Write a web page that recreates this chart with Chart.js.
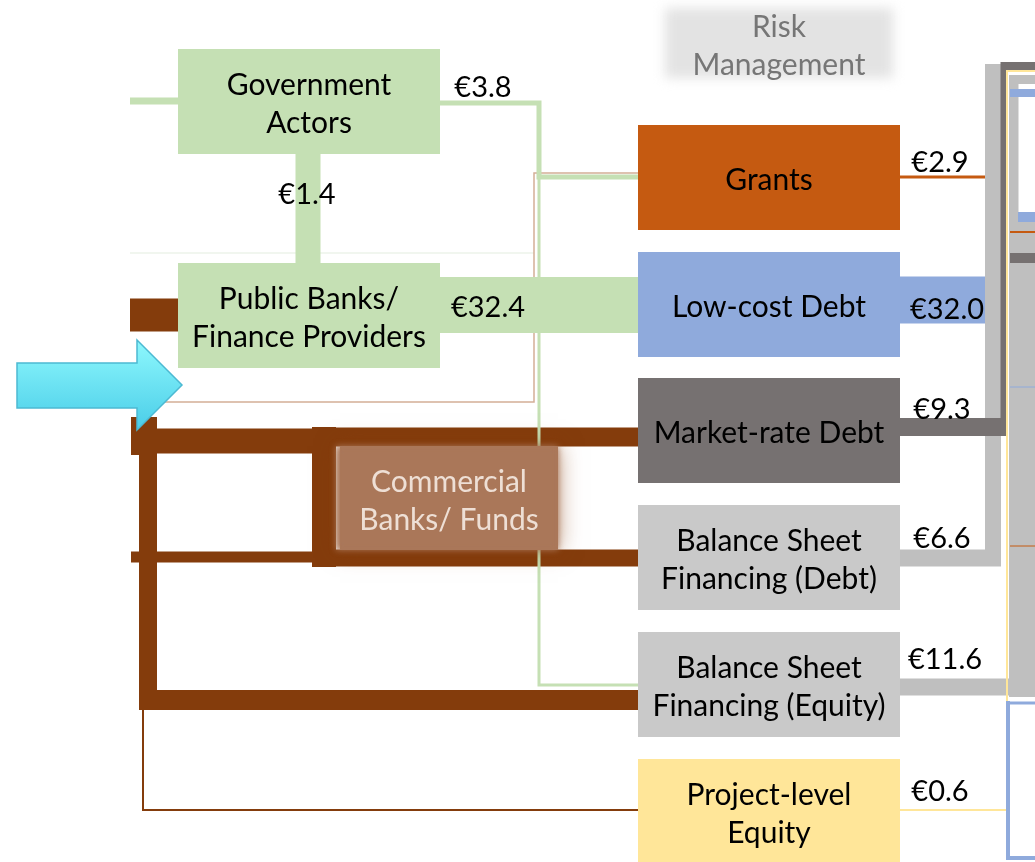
<!DOCTYPE html>
<html>
<head>
<meta charset="utf-8">
<script src="https://cdn.jsdelivr.net/npm/chart.js@4"></script>
<style>
 html, body { margin: 0; padding: 0; background: #fff; }
</style>
</head>
<body>
<canvas id="flowChart" width="1035" height="862"></canvas>
<script>
// データ (EUR, billions)
const nodeNames = ["Government\nActors", "Public Banks/\nFinance Providers", "Commercial\nBanks/ Funds", "Risk\nManagement"];
const instrumentNames = ["Grants", "Low-cost Debt", "Market-rate Debt", "Balance Sheet\nFinancing (Debt)", "Balance Sheet\nFinancing (Equity)", "Project-level\nEquity"];
const sourceFlowValues = [3.8, 1.4, 32.4];                 // Gov -> instruments, Gov -> Public banks, Public banks -> Low-cost debt
const instrumentFlowValues = [2.9, 32.0, 9.3, 6.6, 11.6, 0.6]; // out of each instrument

// 色
const GREEN = "#c5e0b4", BROWN = "#843c0c", TAN = "#d4ae97", ORANGE = "#c55a11",
      BLUE = "#8faadc", DARK = "#767171", GREY = "#bfbfbf", LIGHT = "#c9c9c9", YELLOW = "#ffe699";

// レイアウト (axis units = pixels of the original)
const nodeBoxes = [
 { rect: [178, 49, 440, 154], fill: GREEN, text: "#000" },
 { rect: [178, 263, 440, 368], fill: GREEN, text: "#000" },
 { rect: [340, 446, 558, 550], fill: "#aa7759", text: "#eedfd5", glow: true },
 { rect: [665, 8, 893, 78], fill: "#e3e3e3", text: "#767676", blur: true }
];
const instrumentBoxes = [
 { rect: [638, 125, 900, 230], fill: ORANGE },
 { rect: [638, 252, 900, 357], fill: BLUE },
 { rect: [638, 378, 900, 483], fill: DARK },
 { rect: [638, 505, 900, 610], fill: LIGHT },
 { rect: [638, 632, 900, 737], fill: LIGHT },
 { rect: [638, 759, 900, 875], fill: YELLOW }
];
const sourceLabelPos = [[483, 85], [307, 192], [488, 305]];
const instrumentLabelPos = [[940, 160], [947, 307], [942, 407], [942, 536], [945, 657], [940, 789]];

// 流れの経路
const flowPaths = [
 // left side brown network
 { c: BROWN, w: 33, p: [[130, 315], [178, 315]] },
 { c: BROWN, w: 26, p: [[144, 417], [144, 455]] },
 { c: BROWN, w: 18, p: [[148, 417], [148, 710]] },
 { c: BROWN, w: 25, p: [[131, 441], [317, 441]] },
 { c: BROWN, w: 19, p: [[317, 437], [638, 437]] },
 { c: BROWN, w: 11, p: [[131, 557], [317, 557]] },
 { c: BROWN, w: 17, p: [[312, 558], [638, 558]] },
 { c: BROWN, w: 24, p: [[324, 427], [324, 567]] },
 { c: BROWN, w: 20, p: [[139, 700], [638, 700]] },
 { c: BROWN, w: 2, p: [[143, 710], [143, 810], [638, 810]] },
 // thin guides
 { c: "#edf3ea", w: 1.5, p: [[130, 253], [534, 253]] },
 { c: TAN, w: 1.5, p: [[165, 402], [534, 402], [534, 173], [645, 173]] },
 // green flows
 { c: GREEN, w: 7, p: [[130, 101], [178, 101]] },
 { c: GREEN, w: 25, p: [[308, 154], [308, 263]] },
 { c: GREEN, w: 3, p: [[539, 177], [539, 685], [638, 685]] },
 { c: GREEN, w: 5, p: [[440, 103], [539, 103], [539, 177], [638, 177]] },
 { c: GREEN, w: 56, p: [[440, 305], [638, 305]] },
 // right side
 { c: GREY, w: 26, p: [[1022, 75], [1022, 697]] },
 { c: "#ffffff", w: 17, p: [[1027, 84], [1027, 212]] },
 { c: BLUE, w: 8, p: [[1010, 93], [1035, 93]] },
 { c: BLUE, w: 10, p: [[1018, 217], [1035, 217]] },
 { c: ORANGE, w: 2, p: [[1010, 232], [1035, 232]] },
 { c: DARK, w: 10, p: [[1010, 258], [1035, 258]] },
 { c: BLUE, w: 1, p: [[1010, 387], [1035, 387]] },
 { c: ORANGE, w: 1, p: [[1010, 546], [1035, 546]] },
 { c: ORANGE, w: 3, p: [[900, 177], [985, 177]] },
 { c: BLUE, w: 47, p: [[900, 300], [986, 300]] },
 { c: GREY, w: 17, p: [[900, 558], [1001, 558]] },
 { c: GREY, w: 16, p: [[993, 566], [993, 64]] },
 { c: GREY, w: 17, p: [[900, 687], [1018, 687]] },
 { c: DARK, w: 18, p: [[900, 427], [1007, 427]] },
 { c: DARK, w: 7, p: [[1004, 436], [1004, 62]] },
 { c: DARK, w: 8, p: [[1001, 66], [1035, 66]] },
 { c: YELLOW, w: 2, p: [[900, 810], [1007, 810], [1007, 71], [1035, 71]] },
 { c: BLUE, w: 3, p: [[1010, 703], [1035, 703]] },
 { c: BLUE, w: 4, p: [[1008, 701], [1008, 858], [1035, 858]] }
];

const datasets = flowPaths.map((f, i) => ({
 data: f.p.map(([x, y]) => ({ x, y })),
 showLine: true,
 borderColor: f.c,
 borderWidth: f.w,
 borderJoinStyle: "miter",
 borderCapStyle: "butt",
 pointRadius: 0,
 tension: 0,
 clip: false,
 order: flowPaths.length - i // 後ろのものほど上に描く
}));

const FONT = "Lato, 'Open Sans', sans-serif";

function drawLines(ctx, text, cx, cy, size, color) {
 const lines = text.split("\n");
 const lh = 38;
 ctx.font = `${size}px ${FONT}`;
 ctx.fillStyle = color;
 ctx.textAlign = "center";
 ctx.textBaseline = "middle";
 lines.forEach((ln, i) => {
  ctx.fillText(ln, cx, cy + 3 + (i - (lines.length - 1) / 2) * lh);
 });
}

const diagramPlugin = {
 id: "diagram",
 afterDatasetsDraw(chart) {
  const { ctx } = chart;
  const sx = v => chart.scales.x.getPixelForValue(v);
  const sy = v => chart.scales.y.getPixelForValue(v);
  const rectPx = r => [sx(r[0]), sy(r[1]), sx(r[2]) - sx(r[0]), sy(r[3]) - sy(r[1])];

  // source boxes
  nodeBoxes.forEach((b, i) => {
   const [x, y, w, h] = rectPx(b.rect);
   ctx.save();
   if (b.blur) {
    ctx.filter = "blur(6px)";
    ctx.fillStyle = b.fill;
    ctx.fillRect(x, y, w, h);
   } else if (b.glow) {
    ctx.shadowColor = "rgba(132,60,12,0.55)";
    ctx.shadowBlur = 22;
    ctx.fillStyle = b.fill;
    ctx.fillRect(x, y, w, h);
    ctx.shadowBlur = 0;
    ctx.filter = "blur(3px)";
    ctx.fillRect(x - 4, y, w + 4, h);
   } else {
    ctx.fillStyle = b.fill;
    ctx.fillRect(x, y, w, h);
   }
   ctx.restore();
   drawLines(ctx, nodeNames[i], x + w / 2, y + h / 2, 30, b.text);
  });

  // instrument boxes
  instrumentBoxes.forEach((b, i) => {
   const [x, y, w, h] = rectPx(b.rect);
   ctx.fillStyle = b.fill;
   ctx.fillRect(x, y, w, h);
   const cy = i === 5 ? y + 52 : y + h / 2;
   drawLines(ctx, instrumentNames[i], x + w / 2, cy, 30, "#000");
  });

  // value labels
  sourceFlowValues.forEach((v, i) => {
   const [px, py] = sourceLabelPos[i];
   drawLines(ctx, "€" + v.toFixed(1), sx(px), sy(py), 29, "#000");
  });
  instrumentFlowValues.forEach((v, i) => {
   const [px, py] = instrumentLabelPos[i];
   drawLines(ctx, "€" + v.toFixed(1), sx(px), sy(py), 29, "#000");
  });

  // cyan block arrow
  const arrow = [[17, 363], [137, 363], [137, 340], [182, 385], [137, 430], [137, 408], [17, 408]];
  ctx.save();
  const g = ctx.createLinearGradient(0, sy(340), 0, sy(430));
  g.addColorStop(0, "#8ef8fd");
  g.addColorStop(1, "#4acde8");
  ctx.beginPath();
  arrow.forEach(([ax, ay], k) => (k ? ctx.lineTo(sx(ax), sy(ay)) : ctx.moveTo(sx(ax), sy(ay))));
  ctx.closePath();
  ctx.fillStyle = g;
  ctx.fill();
  ctx.lineWidth = 1.5;
  ctx.strokeStyle = "#4cb9d2";
  ctx.stroke();
  ctx.restore();
 }
};

new Chart(document.getElementById("flowChart"), {
 type: "scatter",
 data: { datasets },
 options: {
  responsive: false,
  animation: false,
  layout: { padding: 0 },
  plugins: { legend: { display: false }, tooltip: { enabled: false } },
  scales: {
   x: { type: "linear", min: 0, max: 1035, display: false },
   y: { type: "linear", min: 0, max: 862, reverse: true, display: false }
  }
 },
 plugins: [diagramPlugin]
});
</script>
</body>
</html>
